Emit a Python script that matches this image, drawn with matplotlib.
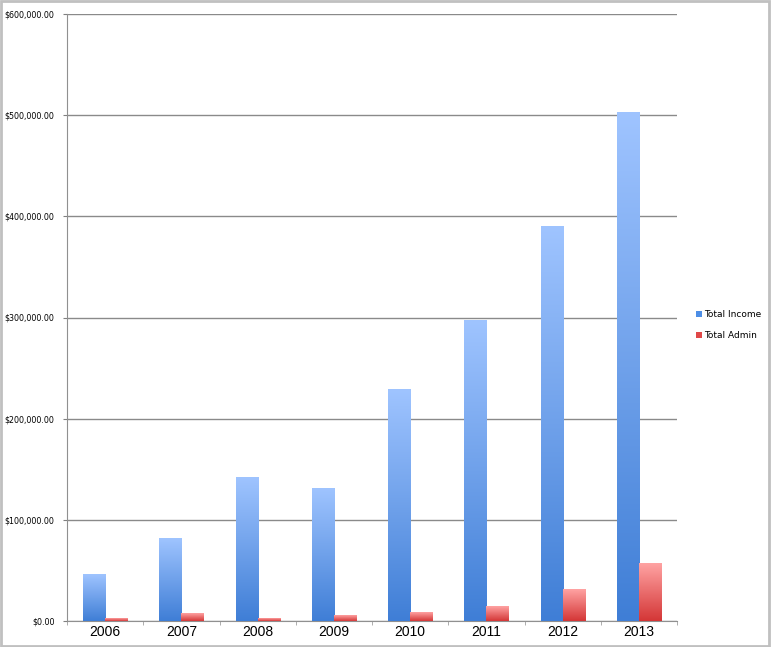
import numpy as np
import matplotlib.pyplot as plt
from matplotlib.patches import Patch, Rectangle
from matplotlib.colors import LinearSegmentedColormap
from matplotlib.ticker import FuncFormatter

# Dữ liệu
years = ['2006', '2007', '2008', '2009', '2010', '2011', '2012', '2013']
total_income = [45500, 81700, 142000, 131400, 229000, 296600, 390400, 503000]
total_admin = [2000, 7000, 2000, 5300, 8300, 14000, 31000, 57000]

fig = plt.figure(figsize=(7.71, 6.47), dpi=100)
ax = fig.add_axes([67 / 771, 26 / 647, 610 / 771, 607 / 647])

blue_cmap = LinearSegmentedColormap.from_list('blue', ['#3f7ed6', '#9fc4ff'])
red_cmap = LinearSegmentedColormap.from_list('red', ['#d43636', '#ffa3a3'])
grad = np.linspace(0, 1, 256).reshape(-1, 1)

w = 0.29
x = np.arange(len(years))

# Vẽ cột có hiệu ứng chuyển màu
def gradient_bar(x0, h, cmap):
    ax.imshow(grad, extent=[x0, x0 + w, 0, h], origin='lower', cmap=cmap,
              aspect='auto', zorder=3, interpolation='bicubic')

for i in range(len(years)):
    gradient_bar(x[i] - w, total_income[i], blue_cmap)
    gradient_bar(x[i], total_admin[i], red_cmap)

ax.set_xlim(-0.5, len(years) - 0.5)
ax.set_ylim(0, 600000)
ax.set_yticks(np.arange(0, 600001, 100000))
ax.yaxis.set_major_formatter(FuncFormatter(lambda v, p: f'${v:,.2f}'))
ax.grid(axis='y', color='#8a8a8a', linewidth=1, zorder=0)

ax.set_xticks(x)
ax.set_xticklabels(years, fontsize=10, family='Liberation Sans')
ax.set_xticks(np.arange(-0.5, len(years)), minor=True)
ax.tick_params(axis='x', which='major', length=0, pad=3)
ax.tick_params(axis='x', which='minor', length=3, color='#a0a0a0')
ax.tick_params(axis='y', length=3, color='#808080', labelsize=5.7, pad=6)

for s in ['top', 'right']:
    ax.spines[s].set_visible(False)
for s in ['left', 'bottom']:
    ax.spines[s].set_color('#909090')

handles = [Patch(facecolor='#4d8ee6', label='Total Income'),
           Patch(facecolor='#e04848', label='Total Admin')]
fig.legend(handles=handles, loc='center left', bbox_to_anchor=(688 / 771, 1 - 325 / 647),
           frameon=False, fontsize=6.5, handlelength=0.6, handleheight=0.6,
           handletextpad=0.3, labelspacing=1.3)

# Khung viền ngoài
fig.patches.append(Rectangle((0.001, 0.002), 0.997, 0.996, transform=fig.transFigure,
                             fill=False, edgecolor='#c0c0c0', linewidth=2))

fig.savefig('out.png', dpi=100)
